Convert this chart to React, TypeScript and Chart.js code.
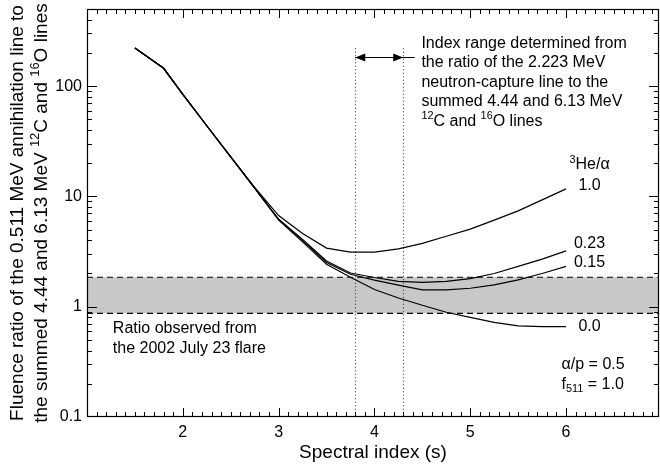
import React, { useEffect, useRef } from 'react';
import { Chart, registerables } from 'chart.js';

Chart.register(...registerables);

// ---------- data ----------
const xValues = [1.5, 1.8, 2.0, 2.25, 2.5, 2.75, 3.0, 3.25, 3.5, 3.75, 4.0, 4.25, 4.5, 4.75, 5.0, 5.25, 5.5, 5.75, 6.0];
const ratioHe10 = [222, 145, 84, 43.7, 22.8, 12.1, 6.7, 4.6, 3.4, 3.12, 3.12, 3.35, 3.75, 4.35, 5.05, 6.1, 7.4, 9.3, 11.7];
const ratioHe023 = [222, 145, 84, 43.7, 22.8, 11.9, 6.2, 4.08, 2.6, 2.02, 1.84, 1.7, 1.66, 1.7, 1.8, 2.0, 2.32, 2.7, 3.21];
const ratioHe015 = [222, 145, 84, 43.7, 22.8, 11.9, 6.2, 4.0, 2.52, 1.97, 1.74, 1.57, 1.42, 1.42, 1.47, 1.58, 1.75, 2.0, 2.32];
const ratioHe00 = [222, 145, 84, 43.7, 22.8, 11.9, 6.1, 3.87, 2.43, 1.85, 1.43, 1.2, 1.03, 0.89, 0.8, 0.72, 0.67, 0.66, 0.66];

const seriesValues = [ratioHe10, ratioHe023, ratioHe015, ratioHe00];
const seriesLabels = ['1.0', '0.23', '0.15', '0.0'];
const seriesLabelY = [12.4, 3.72, 2.5, 0.66];
const seriesLabelX = 6.245;

const xTickValues = [2, 3, 4, 5, 6];
const yTickValues = [0.1, 1, 10, 100];
const yTickLabels = ['0.1', '1', '10', '100'];

const bandRange = [0.87, 1.85];
const indexRange = [3.8, 4.3];
const dottedTop = 220;
const arrowY = 183;
const arrowTailX = 4.42;

type Part = { t: string; s?: 'sup' | 'sub' };

const xTitle = 'Spectral index (s)';
const yTitleLines: Part[][] = [
  [{ t: 'Fluence ratio of the 0.511 MeV annihilation line to' }],
  [{ t: 'the summed 4.44 and 6.13 MeV ' }, { t: '12', s: 'sup' }, { t: 'C and ' }, { t: '16', s: 'sup' }, { t: 'O lines' }],
];

const noteLines: Part[][] = [
  [{ t: 'Index range determined from' }],
  [{ t: 'the ratio of the 2.223 MeV' }],
  [{ t: 'neutron-capture line to the' }],
  [{ t: 'summed 4.44 and 6.13 MeV' }],
  [{ t: '12', s: 'sup' }, { t: 'C and ' }, { t: '16', s: 'sup' }, { t: 'O lines' }],
];
const noteX = 4.49;
const noteY = 245;

const ratioLines: Part[][] = [[{ t: 'Ratio observed from' }], [{ t: 'the 2002 July 23 flare' }]];
const ratioX = 1.27;
const ratioY = 0.63;

const paramLines: Part[][] = [
  [{ t: 'α/p = 0.5' }],
  [{ t: 'f' }, { t: '511', s: 'sub' }, { t: ' = 1.0' }],
];
const paramX = 5.953;
const paramY = 0.3;

const heLabel: Part[] = [{ t: '3', s: 'sup' }, { t: 'He/α' }];
const heLabelY = 19.3;

// ---------- helpers ----------
const FAMILY = '"Liberation Sans", Arial, Helvetica, sans-serif';
const fontOf = (size: number) => `${size}px ${FAMILY}`;

function drawRich(ctx: CanvasRenderingContext2D, parts: Part[], x: number, y: number, size: number, align: 'left' | 'center') {
  let w = 0;
  for (const p of parts) {
    ctx.font = fontOf(p.s ? size * 0.68 : size);
    w += ctx.measureText(p.t).width;
  }
  let cx = align === 'center' ? x - w / 2 : x;
  ctx.textAlign = 'left';
  ctx.textBaseline = 'middle';
  for (const p of parts) {
    const sz = p.s ? size * 0.68 : size;
    ctx.font = fontOf(sz);
    const dy = p.s === 'sup' ? -size * 0.33 : p.s === 'sub' ? size * 0.32 : 0;
    ctx.fillText(p.t, cx, y + dy);
    cx += ctx.measureText(p.t).width;
  }
}

const decorPlugin = {
  id: 'decor',
  beforeDatasetsDraw(chart: any) {
    const { ctx, chartArea: a, scales } = chart;
    const x = scales.x;
    const y = scales.y;
    ctx.save();
    const yTop = y.getPixelForValue(bandRange[1]);
    const yBot = y.getPixelForValue(bandRange[0]);
    ctx.fillStyle = '#c8c8c8';
    ctx.fillRect(a.left, yTop, a.right - a.left, yBot - yTop);
    ctx.strokeStyle = '#000';
    ctx.lineWidth = 1.2;
    ctx.setLineDash([6, 4]);
    for (const py of [yTop, yBot]) {
      ctx.beginPath();
      ctx.moveTo(a.left, py);
      ctx.lineTo(a.right, py);
      ctx.stroke();
    }
    ctx.setLineDash([1, 2.5]);
    ctx.strokeStyle = '#333';
    ctx.lineWidth = 1.1;
    for (const v of indexRange) {
      const px = Math.round(x.getPixelForValue(v)) + 0.5;
      ctx.beginPath();
      ctx.moveTo(px, y.getPixelForValue(dottedTop));
      ctx.lineTo(px, a.bottom);
      ctx.stroke();
    }
    ctx.restore();
  },
  afterDatasetsDraw(chart: any) {
    const { ctx, chartArea: a, scales } = chart;
    const x = scales.x;
    const y = scales.y;
    ctx.save();
    ctx.strokeStyle = '#000';
    ctx.fillStyle = '#000';
    ctx.lineWidth = 1;
    const seg = (x1: number, y1: number, x2: number, y2: number) => {
      ctx.beginPath();
      ctx.moveTo(x1, y1);
      ctx.lineTo(x2, y2);
      ctx.stroke();
    };
    // x ticks
    for (let i = 11; i < 70; i++) {
      const major = i % 10 === 0;
      const len = major ? 9 : 5;
      const px = Math.round(x.getPixelForValue(i / 10)) + 0.5;
      seg(px, a.bottom, px, a.bottom - len);
      seg(px, a.top, px, a.top + len);
    }
    // y ticks
    for (let e = -1; e <= 2; e++) {
      for (let m = 1; m <= 9; m++) {
        const v = m * Math.pow(10, e);
        if (v <= 0.1 || v >= 500) continue;
        const len = m === 1 ? 10 : 5;
        const py = Math.round(y.getPixelForValue(v)) + 0.5;
        seg(a.left, py, a.left + len, py);
        seg(a.right, py, a.right - len, py);
      }
    }
    // frame
    ctx.lineWidth = 1.2;
    ctx.strokeRect(a.left + 0.5, a.top + 0.5, a.right - a.left - 1, a.bottom - a.top - 1);

    // arrow
    const ay = Math.round(y.getPixelForValue(arrowY)) + 0.5;
    const ax1 = x.getPixelForValue(indexRange[0]);
    const ax2 = x.getPixelForValue(indexRange[1]);
    const axT = x.getPixelForValue(arrowTailX);
    ctx.lineWidth = 1.2;
    seg(ax1, ay, axT, ay);
    const head = (tip: number, dir: number) => {
      ctx.beginPath();
      ctx.moveTo(tip, ay);
      ctx.lineTo(tip + dir * 10, ay - 4);
      ctx.lineTo(tip + dir * 10, ay + 4);
      ctx.closePath();
      ctx.fill();
    };
    head(ax1, 1);
    head(ax2, -1);

    // texts
    ctx.fillStyle = '#000';
    const size = 16;
    noteLines.forEach((ln, i) => drawRich(ctx, ln, x.getPixelForValue(noteX), y.getPixelForValue(noteY) + i * 19.6, size, 'left'));
    ratioLines.forEach((ln, i) => drawRich(ctx, ln, x.getPixelForValue(ratioX), y.getPixelForValue(ratioY) + i * 20, size, 'left'));
    paramLines.forEach((ln, i) => drawRich(ctx, ln, x.getPixelForValue(paramX), y.getPixelForValue(paramY) + i * 20, size, 'left'));
    seriesLabels.forEach((lb, i) =>
      drawRich(ctx, [{ t: lb }], x.getPixelForValue(seriesLabelX), y.getPixelForValue(seriesLabelY[i]), size, 'center')
    );
    drawRich(ctx, heLabel, x.getPixelForValue(seriesLabelX), y.getPixelForValue(heLabelY), size, 'center');

    // y title
    const cy = (a.top + a.bottom) / 2;
    const centers = [a.left - 69, a.left - 45];
    yTitleLines.forEach((ln, i) => {
      ctx.save();
      ctx.translate(centers[i], cy);
      ctx.rotate(-Math.PI / 2);
      drawRich(ctx, ln, 0, 0, 19, 'center');
      ctx.restore();
    });
    ctx.restore();
  },
};

export default function App() {
  const ref = useRef<HTMLCanvasElement | null>(null);
  useEffect(() => {
    if (!ref.current) return;
    const datasets = seriesValues.map((vals, i) => ({
      label: seriesLabels[i],
      data: xValues.map((xv, j) => ({ x: xv, y: vals[j] })),
      borderColor: '#000',
      borderWidth: 1.2,
      pointRadius: 0,
      tension: 0,
      fill: false,
    }));
    const chart = new Chart(ref.current, {
      type: 'line',
      data: { datasets },
      options: {
        responsive: false,
        animation: false,
        devicePixelRatio: 1,
        layout: { padding: { top: 9, right: 1, left: 0, bottom: 0 } },
        plugins: { legend: { display: false }, tooltip: { enabled: false } },
        scales: {
          x: {
            type: 'linear',
            min: 1,
            max: 6.97,
            grid: { display: false, drawTicks: false },
            border: { display: false },
            afterBuildTicks: (s: any) => {
              s.ticks = xTickValues.map((v) => ({ value: v }));
            },
            afterFit: (s: any) => {
              s.height = 50;
              s.paddingLeft = 0;
              s.paddingRight = 0;
              s.paddingTop = 0;
              s.paddingBottom = 0;
            },
            ticks: {
              color: '#000',
              font: { family: FAMILY, size: 16 },
              padding: 6,
              maxRotation: 0,
              autoSkip: false,
              callback: (v: any) => String(v),
            },
            title: {
              display: true,
              text: xTitle,
              color: '#000',
              font: { family: FAMILY, size: 19 },
              padding: { top: 0, bottom: 3 },
            },
          },
          y: {
            type: 'logarithmic',
            min: 0.1,
            max: 500,
            grid: { display: false, drawTicks: false },
            border: { display: false },
            afterBuildTicks: (s: any) => {
              s.ticks = yTickValues.map((v) => ({ value: v }));
            },
            afterFit: (s: any) => {
              s.width = 87;
              s.paddingLeft = 0;
              s.paddingRight = 0;
              s.paddingTop = 0;
              s.paddingBottom = 0;
            },
            ticks: {
              color: '#000',
              font: { family: FAMILY, size: 16 },
              padding: 5,
              autoSkip: false,
              callback: (v: any) => {
                const k = yTickValues.indexOf(Number(v));
                return k >= 0 ? yTickLabels[k] : '';
              },
            },
          },
        },
      } as any,
      plugins: [decorPlugin],
    });
    return () => chart.destroy();
  }, []);
  return (
    <div style={{ position: 'absolute', left: 0, top: 0, width: 660, height: 467, background: '#fff' }}>
      <canvas ref={ref} width={660} height={467} style={{ display: 'block' }} />
    </div>
  );
}
